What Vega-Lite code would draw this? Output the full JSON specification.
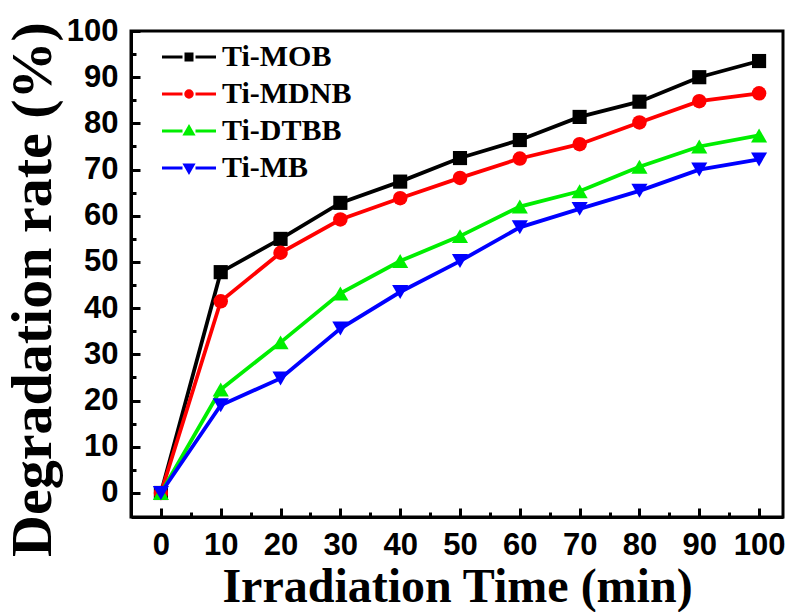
{
  "$schema": "https://vega.github.io/schema/vega-lite/v6.json",
  "width": 652,
  "height": 486,
  "autosize": {"type": "none"},
  "padding": {"left": 131, "top": 31, "right": 8, "bottom": 95},
  "background": "white",
  "config": {
    "view": {"stroke": "black", "strokeWidth": 3},
    "axis": {
      "domainColor": "black",
      "domainWidth": 3,
      "tickColor": "black",
      "tickWidth": 3,
      "grid": false,
      "labelFont": "Liberation Sans",
      "labelFontWeight": "bold",
      "labelFontSize": 31,
      "labelColor": "black",
      "titleFont": "Liberation Serif",
      "titleFontWeight": "bold",
      "titleColor": "black"
    }
  },
  "data": {
    "values": [
      {"t": 0, "rate": 0, "series": "Ti-MOB"},
      {"t": 10, "rate": 47.8, "series": "Ti-MOB"},
      {"t": 20, "rate": 55.0, "series": "Ti-MOB"},
      {"t": 30, "rate": 62.8, "series": "Ti-MOB"},
      {"t": 40, "rate": 67.4, "series": "Ti-MOB"},
      {"t": 50, "rate": 72.5, "series": "Ti-MOB"},
      {"t": 60, "rate": 76.4, "series": "Ti-MOB"},
      {"t": 70, "rate": 81.4, "series": "Ti-MOB"},
      {"t": 80, "rate": 84.7, "series": "Ti-MOB"},
      {"t": 90, "rate": 90.0, "series": "Ti-MOB"},
      {"t": 100, "rate": 93.5, "series": "Ti-MOB"},
      {"t": 0, "rate": 0, "series": "Ti-MDNB"},
      {"t": 10, "rate": 41.5, "series": "Ti-MDNB"},
      {"t": 20, "rate": 52.0, "series": "Ti-MDNB"},
      {"t": 30, "rate": 59.2, "series": "Ti-MDNB"},
      {"t": 40, "rate": 63.8, "series": "Ti-MDNB"},
      {"t": 50, "rate": 68.2, "series": "Ti-MDNB"},
      {"t": 60, "rate": 72.4, "series": "Ti-MDNB"},
      {"t": 70, "rate": 75.5, "series": "Ti-MDNB"},
      {"t": 80, "rate": 80.2, "series": "Ti-MDNB"},
      {"t": 90, "rate": 84.8, "series": "Ti-MDNB"},
      {"t": 100, "rate": 86.5, "series": "Ti-MDNB"},
      {"t": 0, "rate": 0, "series": "Ti-DTBB"},
      {"t": 10, "rate": 22.4, "series": "Ti-DTBB"},
      {"t": 20, "rate": 32.6, "series": "Ti-DTBB"},
      {"t": 30, "rate": 43.2, "series": "Ti-DTBB"},
      {"t": 40, "rate": 50.2, "series": "Ti-DTBB"},
      {"t": 50, "rate": 55.6, "series": "Ti-DTBB"},
      {"t": 60, "rate": 62.0, "series": "Ti-DTBB"},
      {"t": 70, "rate": 65.3, "series": "Ti-DTBB"},
      {"t": 80, "rate": 70.6, "series": "Ti-DTBB"},
      {"t": 90, "rate": 75.0, "series": "Ti-DTBB"},
      {"t": 100, "rate": 77.4, "series": "Ti-DTBB"},
      {"t": 0, "rate": 0, "series": "Ti-MB"},
      {"t": 10, "rate": 19.0, "series": "Ti-MB"},
      {"t": 20, "rate": 24.8, "series": "Ti-MB"},
      {"t": 30, "rate": 35.6, "series": "Ti-MB"},
      {"t": 40, "rate": 43.5, "series": "Ti-MB"},
      {"t": 50, "rate": 50.2, "series": "Ti-MB"},
      {"t": 60, "rate": 57.5, "series": "Ti-MB"},
      {"t": 70, "rate": 61.5, "series": "Ti-MB"},
      {"t": 80, "rate": 65.4, "series": "Ti-MB"},
      {"t": 90, "rate": 70.0, "series": "Ti-MB"},
      {"t": 100, "rate": 72.2, "series": "Ti-MB"}
    ]
  },
  "encoding": {
    "x": {
      "field": "t",
      "type": "quantitative",
      "scale": {"domain": [-5, 104], "nice": false, "zero": false},
      "axis": {
        "title": "Irradiation Time (min)",
        "titleFontSize": 48,
        "titlePadding": 3,
        "values": [0, 5, 10, 15, 20, 25, 30, 35, 40, 45, 50, 55, 60, 65, 70, 75, 80, 85, 90, 95, 100],
        "labelExpr": "datum.value % 10 === 0 ? datum.label : ''",
        "tickSize": {"condition": {"test": "datum.value % 10 === 0", "value": -9}, "value": -5},
        "labelPadding": 22
      }
    },
    "y": {
      "field": "rate",
      "type": "quantitative",
      "scale": {"domain": [-5.2, 100], "nice": false, "zero": false},
      "axis": {
        "title": "Degradation rate (%)",
        "titleFontSize": 58,
        "titlePadding": 4,
        "titleY": 258,
        "values": [0, 5, 10, 15, 20, 25, 30, 35, 40, 45, 50, 55, 60, 65, 70, 75, 80, 85, 90, 95, 100],
        "labelExpr": "datum.value % 10 === 0 ? datum.label : ''",
        "tickSize": {"condition": {"test": "datum.value % 10 === 0", "value": -9}, "value": -5},
        "labelPadding": 22
      }
    },
    "color": {
      "field": "series",
      "type": "nominal",
      "sort": ["Ti-MOB", "Ti-MDNB", "Ti-DTBB", "Ti-MB"],
      "scale": {"domain": ["Ti-MOB", "Ti-MDNB", "Ti-DTBB", "Ti-MB"], "range": ["#000000", "#ff0000", "#00ee00", "#0000ff"]},
      "legend": {
        "title": null,
        "orient": "top-left",
        "offset": 11,
        "padding": 0,
        "labelFont": "Liberation Serif",
        "labelFontWeight": "bold",
        "labelFontSize": 30,
        "labelColor": "black",
        "symbolSize": 100,
        "symbolOffset": 32,
        "labelOffset": 18,
        "rowPadding": 7,
        "symbolStrokeWidth": 3,
        "encode": {
          "symbols": {
            "update": {
              "shape": {"signal": "datum.value === 'Ti-MOB' ? 'M-5.4,0H-1.3M-0.6,-0.6H0.6V0.6H-0.6ZM1.3,0H5.4' : datum.value === 'Ti-MDNB' ? 'M-5.4,0H-1.3M-0.65,0A0.65,0.65,0,1,0,0.65,0A0.65,0.65,0,1,0,-0.65,0ZM1.3,0H5.4' : datum.value === 'Ti-DTBB' ? 'M-5.4,0H-1.3M0,-0.8L0.8,0.6H-0.8ZM1.3,0H5.4' : 'M-5.4,0H-1.3M0,0.8L0.8,-0.6H-0.8ZM1.3,0H5.4'"},
              "stroke": {"signal": "scale('color', datum.value)"},
              "fill": {"signal": "scale('color', datum.value)"},
              "strokeWidth": {"value": 3},
              "opacity": {"value": 1}
            }
          }
        }
      }
    }
  },
  "layer": [
    {
      "mark": {"type": "line", "strokeWidth": 3.8}
    },
    {
      "transform": [{"filter": "datum.series === 'Ti-MOB'"}],
      "mark": {"type": "point", "shape": "square", "filled": true, "opacity": 1, "size": 200}
    },
    {
      "transform": [{"filter": "datum.series === 'Ti-MDNB'"}],
      "mark": {"type": "point", "shape": "circle", "filled": true, "opacity": 1, "size": 210}
    },
    {
      "transform": [{"filter": "datum.series === 'Ti-DTBB'"}],
      "mark": {"type": "point", "shape": "triangle-up", "filled": true, "opacity": 1, "size": 260}
    },
    {
      "transform": [{"filter": "datum.series === 'Ti-MB'"}],
      "mark": {"type": "point", "shape": "triangle-down", "filled": true, "opacity": 1, "size": 260}
    }
  ]
}
